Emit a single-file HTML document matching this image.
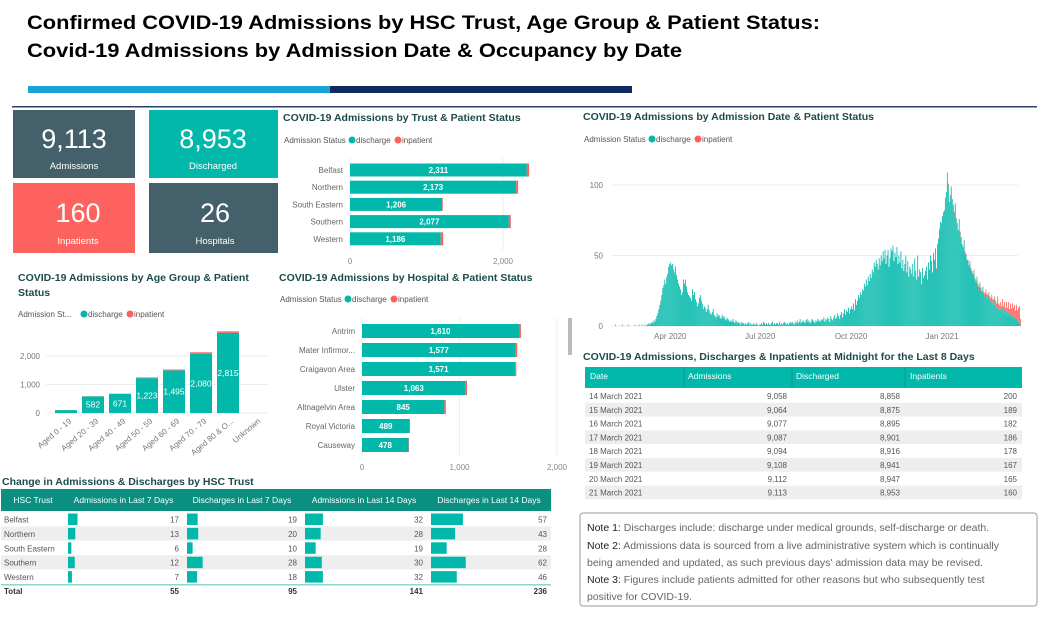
<!DOCTYPE html>
<html><head><meta charset="utf-8">
<style>
html,body{margin:0;padding:0;background:#fff;}
svg{display:block;font-family:"Liberation Sans",Arial,sans-serif;}
</style></head>
<body>
<svg id="dash" width="1039" height="619" viewBox="0 0 1039 619" xmlns="http://www.w3.org/2000/svg">
  <text x="27" y="29" font-size="19" font-weight="bold" fill="#000" textLength="793" lengthAdjust="spacingAndGlyphs">Confirmed COVID-19 Admissions by HSC Trust, Age Group &amp; Patient Status:</text>
  <text x="27" y="57" font-size="19" font-weight="bold" fill="#000" textLength="655" lengthAdjust="spacingAndGlyphs">Covid-19 Admissions by Admission Date &amp; Occupancy by Date</text>
  <rect x="28" y="86" width="302" height="7" fill="#1aa3d3"/>
  <rect x="330" y="86" width="302" height="7" fill="#0f2a5e"/>
  <rect x="12" y="106" width="1025" height="1.5" fill="#2d3f6b"/>

  <rect x="13" y="110" width="122" height="68" fill="#44606a"/>
  <text x="74" y="148" font-size="27" fill="#fff" text-anchor="middle">9,113</text>
  <text x="74" y="169" font-size="9.5" fill="#fff" text-anchor="middle">Admissions</text>
  <rect x="149" y="110" width="129" height="68" fill="#01b8aa"/>
  <text x="213" y="148" font-size="27" fill="#fff" text-anchor="middle">8,953</text>
  <text x="213" y="169" font-size="9.5" fill="#fff" text-anchor="middle">Discharged</text>
  <rect x="13" y="183" width="122" height="70" fill="#fd625e"/>
  <text x="78" y="222" font-size="27" fill="#fff" text-anchor="middle">160</text>
  <text x="78" y="244" font-size="9.5" fill="#fff" text-anchor="middle">Inpatients</text>
  <rect x="149" y="183" width="129" height="70" fill="#44606a"/>
  <text x="215" y="222" font-size="27" fill="#fff" text-anchor="middle">26</text>
  <text x="215" y="244" font-size="9.5" fill="#fff" text-anchor="middle">Hospitals</text>

  <rect x="568" y="318" width="4" height="37" fill="#bbb"/>

  <rect x="580" y="513" width="457" height="93" rx="3" fill="#fff" stroke="#999"/>
  <g font-size="10.5" fill="#666">
    <text x="587" y="531"><tspan fill="#222">Note 1:</tspan> Discharges include: discharge under medical grounds, self-discharge or death.</text>
    <text x="587" y="549"><tspan fill="#222">Note 2:</tspan> Admissions data is sourced from a live administrative system which is continually</text>
    <text x="587" y="566">being amended and updated, as such previous days' admission data may be revised.</text>
    <text x="587" y="583"><tspan fill="#222">Note 3:</tspan> Figures include patients admitted for other reasons but who subsequently test</text>
    <text x="587" y="600">positive for COVID-19.</text>
  </g>
</svg>
<script>
const trustNames=['Belfast','Northern','South Eastern','Southern','Western'];
const trustDischarge=[2311,2173,1206,2077,1186];
const trustInpatient=[30,25,8,25,32];
const trustTicks=[0,2000];

const hospNames=['Antrim','Mater Infirmor...','Craigavon Area','Ulster','Altnagelvin Area','Royal Victoria','Causeway'];
const hospDischarge=[1610,1577,1571,1063,845,489,478];
const hospInpatient=[20,15,12,14,15,3,4];
const hospTicks=[0,1000,2000];

const ageGroups=['Aged 0 - 19','Aged 20 - 39','Aged 40 - 49','Aged 50 - 59','Aged 60 - 69','Aged 70 - 79','Aged 80 & O...','Unknown'];
const ageDischarge=[101,582,671,1223,1495,2080,2815,0];
const ageInpatient=[2,5,8,25,30,50,50,0];
const ageTicks=[0,1000,2000];

const dailyStart=new Date(2020,1,1);
const dDischarge=[].concat(
[0,0,0,0,1,0,0,0,0,0,0,1,0,0,0,0,0,1,0,0,0,0,0,0,1,0,0,0,1],
[0,0,1,0,0,1,0,1,1,2,1,2,3,2,4,3,5,7,9,12,15,18,22,27,29,33,30,35,37,42,44],
[45,43,44,40,38,42,36,33,30,28,26,22,24,33,30,33,28,24,22,21,20,18,26,22,24,19,17,14,16,20],
[22,18,16,12,14,13,10,12,15,11,9,8,10,12,8,7,6,9,7,8,6,5,8,6,7,5,4,6,5,4,3],
[4,3,5,3,2,4,3,2,3,2,1,3,2,2,1,2,1,2,3,1,2,1,1,2,1,1,2,1,0,1],
[1,2,1,3,2,1,2,1,2,1,1,2,3,1,2,1,2,2,1,3,1,2,1,2,3,2,1,2,1,2,3],
[2,3,2,1,3,2,4,2,3,5,2,3,4,3,2,4,5,3,4,2,3,5,4,3,2,4,3,5,4,3,4],
[5,4,6,3,5,4,6,5,3,7,5,4,6,8,5,6,9,7,5,8,10,6,9,12,8,11,10,13,9,12],
[14,12,16,11,19,15,18,22,20,24,22,26,25,30,28,33,29,35,32,37,34,40,38,45,42,47,44,40,48,43,50],
[46,53,48,54,44,50,54,42,48,55,53,57,46,52,49,56,44,50,45,53,41,47,39,44,50,38,46,35,42,40],
[37,44,35,48,39,33,50,35,40,38,30,41,34,36,39,42,33,45,40,50,46,38,52,47,55,40,58,62,68,74,72],
[78,80,82,90,95,108,100,88,92,98,90,85,80,87,76,72,68,75,66,62,58,55,60,52,50,47,46,42,44,40,38],
[36,38,33,30,34,28,26,30,25,23,27,22,20,24,21,19,22,18,17,20,16,15,18,14,13,16,12,11],
[12,10,13,9,11,8,10,7,9,6,8,5,7,5,6,4,5,3,3,2,1]);
const dInpatient=[].concat(
[0,0,0,0,0,0,0,0,0,0,0,0,0,0,0,0,0,0,0,0,0,0,0,0,0,0,0,0,0],
[0,0,0,0,0,0,0,0,0,0,0,0,0,0,0,0,0,0,0,0,0,0,0,0,0,0,0,0,0,0,0],
[0,0,0,0,0,0,0,0,0,0,0,0,0,0,0,0,0,0,0,0,0,0,0,0,0,0,0,0,0,0],
[0,0,0,0,0,0,0,0,0,0,0,0,0,0,0,0,0,0,0,0,0,0,0,0,0,0,0,0,0,0,0],
[0,0,0,0,0,0,0,0,0,0,0,0,0,0,0,0,0,0,0,0,0,0,0,0,0,0,0,0,0,0],
[0,0,0,0,0,0,0,0,0,0,0,0,0,0,0,0,0,0,0,0,0,0,0,0,0,0,0,0,0,0,0],
[0,0,0,0,0,0,0,0,0,0,0,0,0,0,0,0,0,0,0,0,0,0,0,0,0,0,0,0,0,0,0],
[0,0,0,0,0,0,0,0,0,0,0,0,0,0,0,0,0,0,0,0,0,0,0,0,0,0,0,0,0,0],
[0,0,0,0,0,0,0,0,0,0,0,0,0,0,0,0,0,0,0,0,0,0,0,0,0,0,0,0,0,0,0],
[0,0,0,0,0,0,0,0,0,0,0,0,0,0,0,0,0,0,0,0,0,0,0,0,0,0,0,0,0,0],
[0,0,0,0,0,0,0,0,0,0,0,0,0,0,0,0,0,0,0,0,0,0,0,0,0,1,0,0,1,0,1],
[0,1,0,1,0,1,1,0,1,1,0,1,1,0,1,1,0,1,1,1,0,1,1,1,1,0,1,1,2,1,1],
[1,2,1,2,1,2,2,1,2,2,1,2,3,2,2,3,2,3,3,2,3,4,3,4,3,5,4,4],
[5,4,6,5,6,5,7,6,8,6,8,7,9,8,9,7,10,8,10,12,4]);
const dailyTickLabels=['Apr 2020','Jul 2020','Oct 2020','Jan 2021'];
const dailyTickDates=[new Date(2020,3,1),new Date(2020,6,1),new Date(2020,9,1),new Date(2021,0,1)];
const dailyYTicks=[0,50,100];

const occDates=['14 March 2021','15 March 2021','16 March 2021','17 March 2021','18 March 2021','19 March 2021','20 March 2021','21 March 2021'];
const occAdmissions=['9,058','9,064','9,077','9,087','9,094','9,108','9,112','9,113'];
const occDischarged=['8,858','8,875','8,895','8,901','8,916','8,941','8,947','8,953'];
const occInpatients=['200','189','182','186','178','167','165','160'];

const chgTrusts=['Belfast','Northern','South Eastern','Southern','Western'];
const chgAdm7=[17,13,6,12,7];
const chgDis7=[19,20,10,28,18];
const chgAdm14=[32,28,19,30,32];
const chgDis14=[57,43,28,62,46];
const chgTotals=[55,95,141,236];

const TEAL='#01b8aa', RED='#fd625e', TITLE='#1d4b4b';
const svg=document.getElementById('dash');
const NS='http://www.w3.org/2000/svg';
function mk(tag,attrs,text){const e=document.createElementNS(NS,tag);for(const k in attrs)e.setAttribute(k,attrs[k]);if(text!=null)e.textContent=text;svg.appendChild(e);return e;}
function fmt(v){return v.toLocaleString('en-US');}
function legend(x,y,label,lw){
  let e=mk('text',{x:x,y:y,'font-size':8,fill:'#555'},label);
  
  
  e=mk('circle',{cx:x+lw+4,cy:y-3,r:3.5,fill:TEAL});
  
  
  e=mk('text',{x:x+lw+8,y:y,'font-size':8,fill:'#555'},'discharge');
  
  
  e=mk('circle',{cx:x+lw+50,cy:y-3,r:3.5,fill:RED});
  
  
  e=mk('text',{x:x+lw+54,y:y,'font-size':8,fill:'#555'},'inpatient');
  
  
}
function title(x,y,t,name){
  const e=mk('text',{x:x,y:y,'font-size':10.5,'font-weight':'bold',fill:TITLE},t);
  
  
}

/* Trust chart */
title(283,121,'COVID-19 Admissions by Trust & Patient Status','trust-chart-title');
legend(284,143,'Admission Status',64);
const xT=v=>350+v*153/2000;
trustTicks.forEach(t=>{
  let e=mk('line',{x1:xT(t),x2:xT(t),y1:158,y2:250,stroke:'#eee'});
  
  
  e=mk('text',{x:xT(t),y:264,'font-size':8,fill:'#888','text-anchor':'middle'},fmt(t));
  
  
});
trustNames.forEach((n,i)=>{
  const cy=170+i*17.2;
  let e=mk('text',{x:343,y:cy+3,'font-size':8,fill:'#666','text-anchor':'end'},n);
  
  
  e=mk('rect',{x:xT(0),y:cy-6.5,width:xT(trustDischarge[i])-xT(0),height:13,fill:TEAL});
  
  
  e=mk('rect',{x:xT(trustDischarge[i]),y:cy-6.5,width:xT(trustInpatient[i])-xT(0),height:13,fill:RED});
  
  
  e=mk('text',{x:(xT(0)+xT(trustDischarge[i]))/2,y:cy+3,'font-size':8,'font-weight':'bold',fill:'#fff','text-anchor':'middle'},fmt(trustDischarge[i]));
  
  
});

/* Age chart */
title(18,281,'COVID-19 Admissions by Age Group & Patient','age-chart-title');
title(18,296,'Status','age-chart-title-line2');
legend(18,317,'Admission St...',62);
const yA=v=>413-v*0.0285;
const xA=i=>66+i*27;
ageTicks.forEach(t=>{
  let e=mk('line',{x1:46,x2:268,y1:yA(t),y2:yA(t),stroke:'#eee'});
  
  
  e=mk('text',{x:40,y:yA(t)+3,'font-size':8,fill:'#777','text-anchor':'end'},fmt(t));
  
  
});
ageGroups.forEach((g,i)=>{
  const cx=xA(i);
  let e=mk('rect',{x:cx-11,y:yA(ageDischarge[i]),width:22,height:yA(0)-yA(ageDischarge[i]),fill:TEAL});
  
  
  e=mk('rect',{x:cx-11,y:yA(ageDischarge[i]+ageInpatient[i]),width:22,height:yA(0)-yA(ageInpatient[i]),fill:RED});
  
  
  if(ageDischarge[i]>=500){
    e=mk('text',{x:cx,y:(yA(ageDischarge[i])+yA(0))/2+3,'font-size':8.5,fill:'#fff','text-anchor':'middle'},fmt(ageDischarge[i]));
    
    
  }
  e=mk('text',{x:cx+6,y:422,'font-size':8,fill:'#777','text-anchor':'end',transform:`rotate(-40 ${cx+6} 422)`},g);
  
  
});

/* Hospital chart */
title(279,281,'COVID-19 Admissions by Hospital & Patient Status','hospital-chart-title');
legend(280,302,'Admission Status',64);
const xH=v=>362+v*0.0975;
hospTicks.forEach(t=>{
  let e=mk('line',{x1:xH(t),x2:xH(t),y1:318,y2:456,stroke:'#eee'});
  
  
  e=mk('text',{x:xH(t),y:470,'font-size':8,fill:'#888','text-anchor':'middle'},fmt(t));
  
  
});
hospNames.forEach((n,i)=>{
  const cy=331+i*19;
  let e=mk('text',{x:355,y:cy+3,'font-size':8,fill:'#666','text-anchor':'end'},n);
  
  
  e=mk('rect',{x:xH(0),y:cy-7,width:xH(hospDischarge[i])-xH(0),height:14,fill:TEAL});
  
  
  e=mk('rect',{x:xH(hospDischarge[i]),y:cy-7,width:xH(hospInpatient[i])-xH(0),height:14,fill:RED});
  
  
  e=mk('text',{x:(xH(0)+xH(hospDischarge[i]))/2,y:cy+3,'font-size':8,'font-weight':'bold',fill:'#fff','text-anchor':'middle'},fmt(hospDischarge[i]));
  
  
});

/* Daily chart */
title(583,120,'COVID-19 Admissions by Admission Date & Patient Status','daily-chart-title');
legend(584,142,'Admission Status',64);
const dayW=410/415;
const xD=d=>611+((d-dailyStart)/86400000)*dayW;
const xDi=i=>611+i*dayW;
const yD=v=>326-v*1.41;
dailyYTicks.forEach(t=>{
  let e=mk('line',{x1:611,x2:1018,y1:yD(t),y2:yD(t),stroke:'#eee'});
  
  
  e=mk('text',{x:603,y:yD(t)+3,'font-size':8,fill:'#777','text-anchor':'end'},t);
  
  
});
dDischarge.forEach((v,i)=>{
  let e=mk('rect',{x:xDi(i),y:yD(v),width:dayW*0.85,height:yD(0)-yD(v),fill:TEAL});
  
  
  if(dInpatient[i]>0){
    e=mk('rect',{x:xDi(i),y:yD(v+dInpatient[i]),width:dayW*0.85,height:yD(0)-yD(dInpatient[i]),fill:RED});
    
    
  }
});
dailyTickLabels.forEach((l,i)=>{
  const e=mk('text',{x:xD(dailyTickDates[i]),y:339,'font-size':8,fill:'#777','text-anchor':'middle'},l);
  
  
});

/* Occupancy table */
title(583,360,'COVID-19 Admissions, Discharges & Inpatients at Midnight for the Last 8 Days','occupancy-table-title');
let h=mk('rect',{x:585,y:367,width:437,height:21,fill:TEAL});


[['Date',590],['Admissions',688],['Discharged',796],['Inpatients',910]].forEach(([t,x])=>{
  const e=mk('text',{x:x,y:379,'font-size':8.5,fill:'#fff'},t);
  
  
});
[684,792,905].forEach(x=>{const e=mk('line',{x1:x,x2:x,y1:367,y2:388,stroke:'#0a9c90'});
  
  });
occDates.forEach((d,i)=>{
  const y=389+i*13.8;
  let e=mk('rect',{x:585,y:y,width:437,height:13.8,fill:i%2?'#eeeeee':'#fff'});
  
  
  e=mk('text',{x:589,y:y+10,'font-size':8,fill:'#555'},d);
  
  
  e=mk('text',{x:787,y:y+10,'font-size':8,fill:'#555','text-anchor':'end'},occAdmissions[i]);
  
  
  e=mk('text',{x:900,y:y+10,'font-size':8,fill:'#555','text-anchor':'end'},occDischarged[i]);
  
  
  e=mk('text',{x:1017,y:y+10,'font-size':8,fill:'#555','text-anchor':'end'},occInpatients[i]);
  
  
});

/* Change table */
title(2,485,'Change in Admissions & Discharges by HSC Trust','change-table-title');
h=mk('rect',{x:1,y:489,width:550,height:22,fill:'#0a8f80'});


const cols=[[2,64],[64,183],[183,301],[301,427],[427,551]];
['HSC Trust','Admissions in Last 7 Days','Discharges in Last 7 Days','Admissions in Last 14 Days','Discharges in Last 14 Days'].forEach((t,i)=>{
  const e=mk('text',{x:(cols[i][0]+cols[i][1])/2,y:503,'font-size':8.5,fill:'#fff','text-anchor':'middle'},t);
  
  
});
const chgSeries=[chgAdm7,chgDis7,chgAdm14,chgDis14];
chgTrusts.forEach((t,r)=>{
  const y=512+r*14.4;
  let e=mk('rect',{x:1,y:y,width:550,height:14.4,fill:r%2?'#eeeeee':'#fff'});
  
  
  e=mk('text',{x:4,y:y+10.5,'font-size':8,fill:'#555'},t);
  
  
  chgSeries.forEach((s,c)=>{
    const x0=cols[c+1][0]+4;
    e=mk('rect',{x:x0,y:y+1.5,width:s[r]*0.56,height:11.5,fill:TEAL});
    
    
    e=mk('text',{x:cols[c+1][1]-4,y:y+10.5,'font-size':8,fill:'#555','text-anchor':'end'},s[r]);
    
    
  });
});
h=mk('rect',{x:1,y:584,width:550,height:1.5,fill:'#8fd6cf'});


h=mk('text',{x:4,y:594,'font-size':8,'font-weight':'bold',fill:'#333'},'Total');


chgTotals.forEach((v,c)=>{
  const e=mk('text',{x:cols[c+1][1]-4,y:594,'font-size':8,'font-weight':'bold',fill:'#333','text-anchor':'end'},v);
  
  
});
</script>
</body></html>
